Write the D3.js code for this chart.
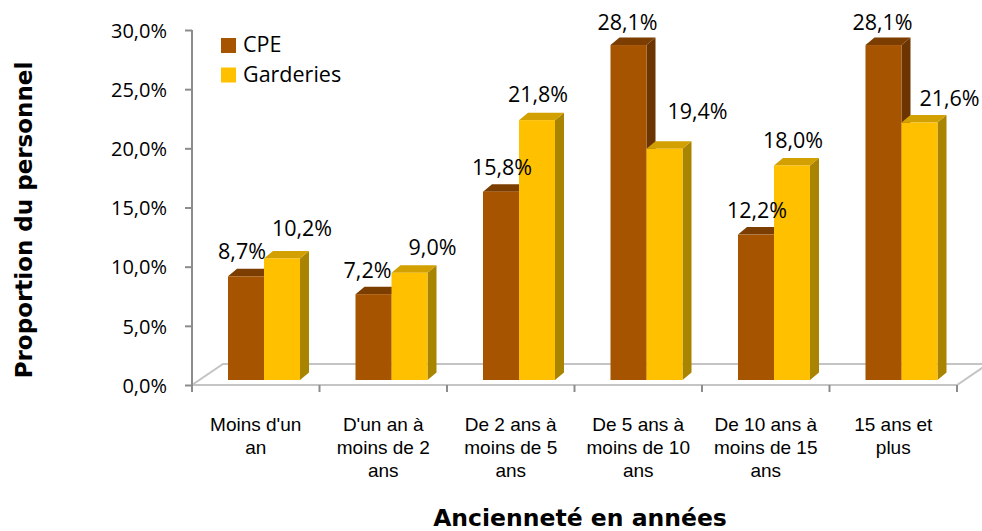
<!DOCTYPE html>
<html><head><meta charset="utf-8">
<script src="https://cdn.jsdelivr.net/npm/d3@7"></script>
<style>body{margin:0;background:#fff}svg{display:block}</style>
</head><body>
<svg id="c" width="982" height="531"></svg>
<script>
const categories = [["Moins d'un","an"],["D'un an à","moins de 2","ans"],["De 2 ans à","moins de 5","ans"],["De 5 ans à","moins de 10","ans"],["De 10 ans à","moins de 15","ans"],["15 ans et","plus"]];
const seriesNames = ["CPE","Garderies"];
const cpe = [8.7, 7.2, 15.8, 28.1, 12.2, 28.1];
const garderies = [10.2, 9.0, 21.8, 19.4, 18.0, 21.6];
const yTicks = [0,5,10,15,20,25,30];

// layout: label nudges (px) as placed by the original chart
const labelNudge = {
  CPE: [[-4,0],[-6,1],[1,0],[-1,2],[1,0],[-1,2]],
  Garderies: [[20,-5],[23,-1],[1,-1],[33,-13],[1,0],[30,0]]
};

const svg = d3.select("#c");
const font = "'Open Sans', sans-serif";
const colors = {
  CPE: {front:"#A65400", top:"#7B3E00", side:"#6C3400"},
  Garderies: {front:"#FFC000", top:"#D2A000", side:"#A98400"}
};
const x = d3.scaleBand().domain(d3.range(categories.length)).range([192,957]);
const inner = d3.scaleBand().domain(seriesNames).range([36, 108]);
const y = d3.scaleLinear().domain([0,30]).range([385,30]);
const yBar = d3.scaleLinear().domain([0,30]).range([380,22.4]);
const fmt = v => d3.format(".1f")(v).replace(".", ",") + "%";
const depth = {dx:9, dy:-7.5};

// floor
const fl = {dx:31, dy:-21};
svg.append("path")
  .attr("d", `M${x.range()[0]},${y(0)} L${x.range()[1]},${y(0)} L${x.range()[1]+fl.dx},${y(0)+fl.dy} L${x.range()[0]+fl.dx},${y(0)+fl.dy} Z`)
  .attr("fill","#fff").attr("stroke","#c4c4c4").attr("stroke-width",2);

// y axis
const yAxis = svg.append("g").attr("transform","translate(192,0)")
  .call(d3.axisLeft(y).tickValues(yTicks).tickSize(7).tickFormat(d => d3.format(".1f")(d).replace(".", ",") + "%"));
yAxis.select(".domain").attr("stroke","#8c8c8c").attr("stroke-width",2).attr("d",`M0,${y(30)}V${y(0)}`);
yAxis.selectAll(".tick line").attr("stroke","#8c8c8c").attr("stroke-width",2);
yAxis.selectAll(".tick text").attr("font-family",font).attr("font-size",20).attr("fill","#000").attr("x",-25).attr("dy","0.36em");

// x ticks
const xt = d3.range(categories.length+1).map(i => x.range()[0] + i*x.step());
svg.selectAll(".xt").data(xt).enter().append("line")
  .attr("x1",d=>d).attr("x2",d=>d).attr("y1",y(0)).attr("y2",y(0)+7)
  .attr("stroke","#8c8c8c").attr("stroke-width",2);

// bars
const data = [];
categories.forEach((c,i) => {
  data.push({i, s:"CPE", v:cpe[i]});
  data.push({i, s:"Garderies", v:garderies[i]});
});
const g = svg.append("g");
data.forEach(d => {
  const x0 = x(d.i) + inner(d.s), w = inner.bandwidth();
  const y0 = yBar(0), y1 = yBar(d.v);
  const c = colors[d.s];
  g.append("path").attr("d",`M${x0+w},${y1} L${x0+w+depth.dx},${y1+depth.dy} L${x0+w+depth.dx},${y0+depth.dy} L${x0+w},${y0} Z`).attr("fill",c.side);
  g.append("path").attr("d",`M${x0},${y1} L${x0+depth.dx},${y1+depth.dy} L${x0+w+depth.dx},${y1+depth.dy} L${x0+w},${y1} Z`).attr("fill",c.top);
  g.append("rect").attr("x",x0).attr("y",y1).attr("width",w).attr("height",y0-y1).attr("fill",c.front);
});
// labels
data.forEach(d => {
  const x0 = x(d.i) + inner(d.s), w = inner.bandwidth();
  const n = labelNudge[d.s][d.i];
  svg.append("text").attr("x", x0 + w/2 + n[0]).attr("y", yBar(d.v) - 17 + n[1])
    .attr("text-anchor","middle").attr("font-family",font).attr("font-size",21.5).text(fmt(d.v));
});

// category labels
categories.forEach((lines,i) => {
  const t = svg.append("text").attr("text-anchor","middle").attr("font-family","'Liberation Sans', Arial, sans-serif").attr("font-size",19);
  lines.forEach((l,k) => t.append("tspan").attr("x", x(i)+x.bandwidth()/2).attr("y", 431 + k*23).text(l));
});

// legend
seriesNames.forEach((s,k) => {
  svg.append("rect").attr("x",221).attr("y",38 + k*29.5).attr("width",15).attr("height",15).attr("fill",colors[s].front);
  svg.append("text").attr("x",243).attr("y",52 + k*30).attr("font-family",font).attr("font-size",21.5).text(s);
});

// axis titles
svg.append("text").attr("transform","translate(32,220) rotate(-90)").attr("text-anchor","middle")
  .attr("font-family","'DejaVu Sans', sans-serif").attr("font-weight","bold").attr("font-size",23).text("Proportion du personnel");
svg.append("text").attr("x",580).attr("y",526).attr("text-anchor","middle")
  .attr("font-family","'DejaVu Sans', sans-serif").attr("font-weight","bold").attr("font-size",23.5).text("Ancienneté en années");
</script>
</body></html>
